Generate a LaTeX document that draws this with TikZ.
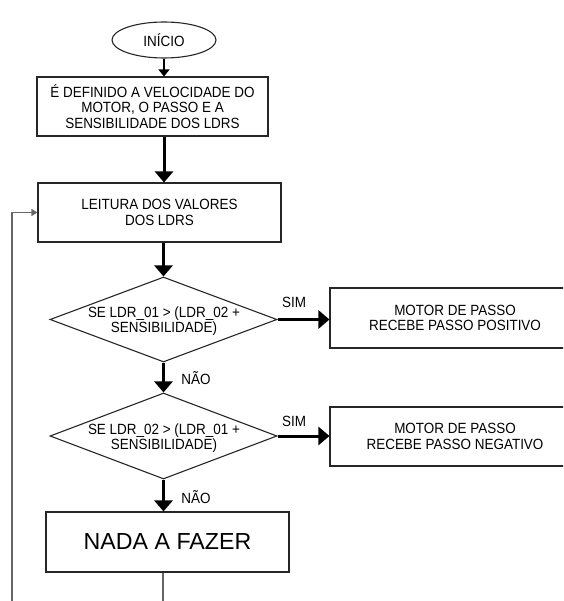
\documentclass[tikz,border=0pt]{standalone}
\usepackage{fontspec}
\setmainfont[FakeStretch=0.91]{Liberation Sans}
\newfontfamily\widefont{Liberation Sans}
\usetikzlibrary{shapes.geometric,arrows.meta}
\begin{document}
\begin{tikzpicture}[x=1pt,y=-1pt,
 every node/.style={font=\fontsize{14.8}{15.2}\selectfont, align=center, inner sep=0pt},
 box/.style={draw=black!85, line width=1.1pt, rectangle},
 dia/.style={draw=black!85, line width=1.1pt, diamond},
 thinarr/.style={line width=1.4pt, -{Triangle[length=7pt,width=11pt]}},
 thickarr/.style={line width=3pt, -{Triangle[length=11pt,width=18pt]}},
 loopline/.style={draw=black!60, line width=1.2pt}
]
\useasboundingbox (0,0) rectangle (563,601);
\clip (0,0) rectangle (563,601);

\node[ellipse, draw=black!85, line width=1.1pt, minimum width=104pt, minimum height=36pt] (start) at (164,40) {INÍCIO};
\node[box, minimum width=231pt, minimum height=59pt] (b1) at (152.5,106.5)
  {É DEFINIDO A VELOCIDADE DO\\MOTOR, O PASSO E A\\SENSIBILIDADE DOS LDRS};
\node[box, minimum width=243pt, minimum height=59pt] (read) at (159.5,212.5)
  {LEITURA DOS VALORES\\DOS LDRS};
\node[dia, minimum width=227pt, minimum height=85pt] (d1) at (163.5,319.5) {};
\node at (164,321) {SE LDR\_01 > (LDR\_02 +\\SENSIBILIDADE)};
\node[dia, minimum width=227pt, minimum height=86pt] (d2) at (163.5,436) {};
\node at (164,438) {SE LDR\_02 > (LDR\_01 +\\SENSIBILIDADE)};
\node[box, minimum width=243pt, minimum height=60pt, font=\widefont\fontsize{23.2}{26}\selectfont] (nada) at (167.5,542) {NADA A FAZER};
\node[box, minimum width=250pt, minimum height=60pt] (bp) at (455,318)
  {MOTOR DE PASSO\\RECEBE PASSO POSITIVO};
\node[box, minimum width=250pt, minimum height=59pt] (bn) at (455,436.5)
  {MOTOR DE PASSO\\RECEBE PASSO NEGATIVO};

\node (sim1) at (294,302) {SIM};
\node (sim2) at (294,421) {SIM};
\node (nao1) at (196,378) {NÃO};
\node (nao2) at (196,497) {NÃO};

\coordinate (bot) at (163,606);
\coordinate (botl) at (12,606);

\draw[thinarr] (start.south) -- (start.south |- b1.north);
\draw[thickarr] (b1.south -| start.south) -- (start.south |- read.north);
\draw[thickarr] (read.south -| d1.north) -- (d1.north);
\draw[thickarr] (d1.south) -- (d2.north);
\draw[thickarr] (d2.south) -- (d2.south |- nada.north);
\draw[thickarr] (d1.east) -- (d1.east -| bp.west);
\draw[thickarr] (d2.east) -- (d2.east -| bn.west);
\draw[loopline] (nada.south -| bot) -- (bot);
\draw[loopline, -{Triangle[length=6pt,width=7pt]}] (botl) -- (botl |- read.west) -- (read.west);
\end{tikzpicture}
\end{document}
